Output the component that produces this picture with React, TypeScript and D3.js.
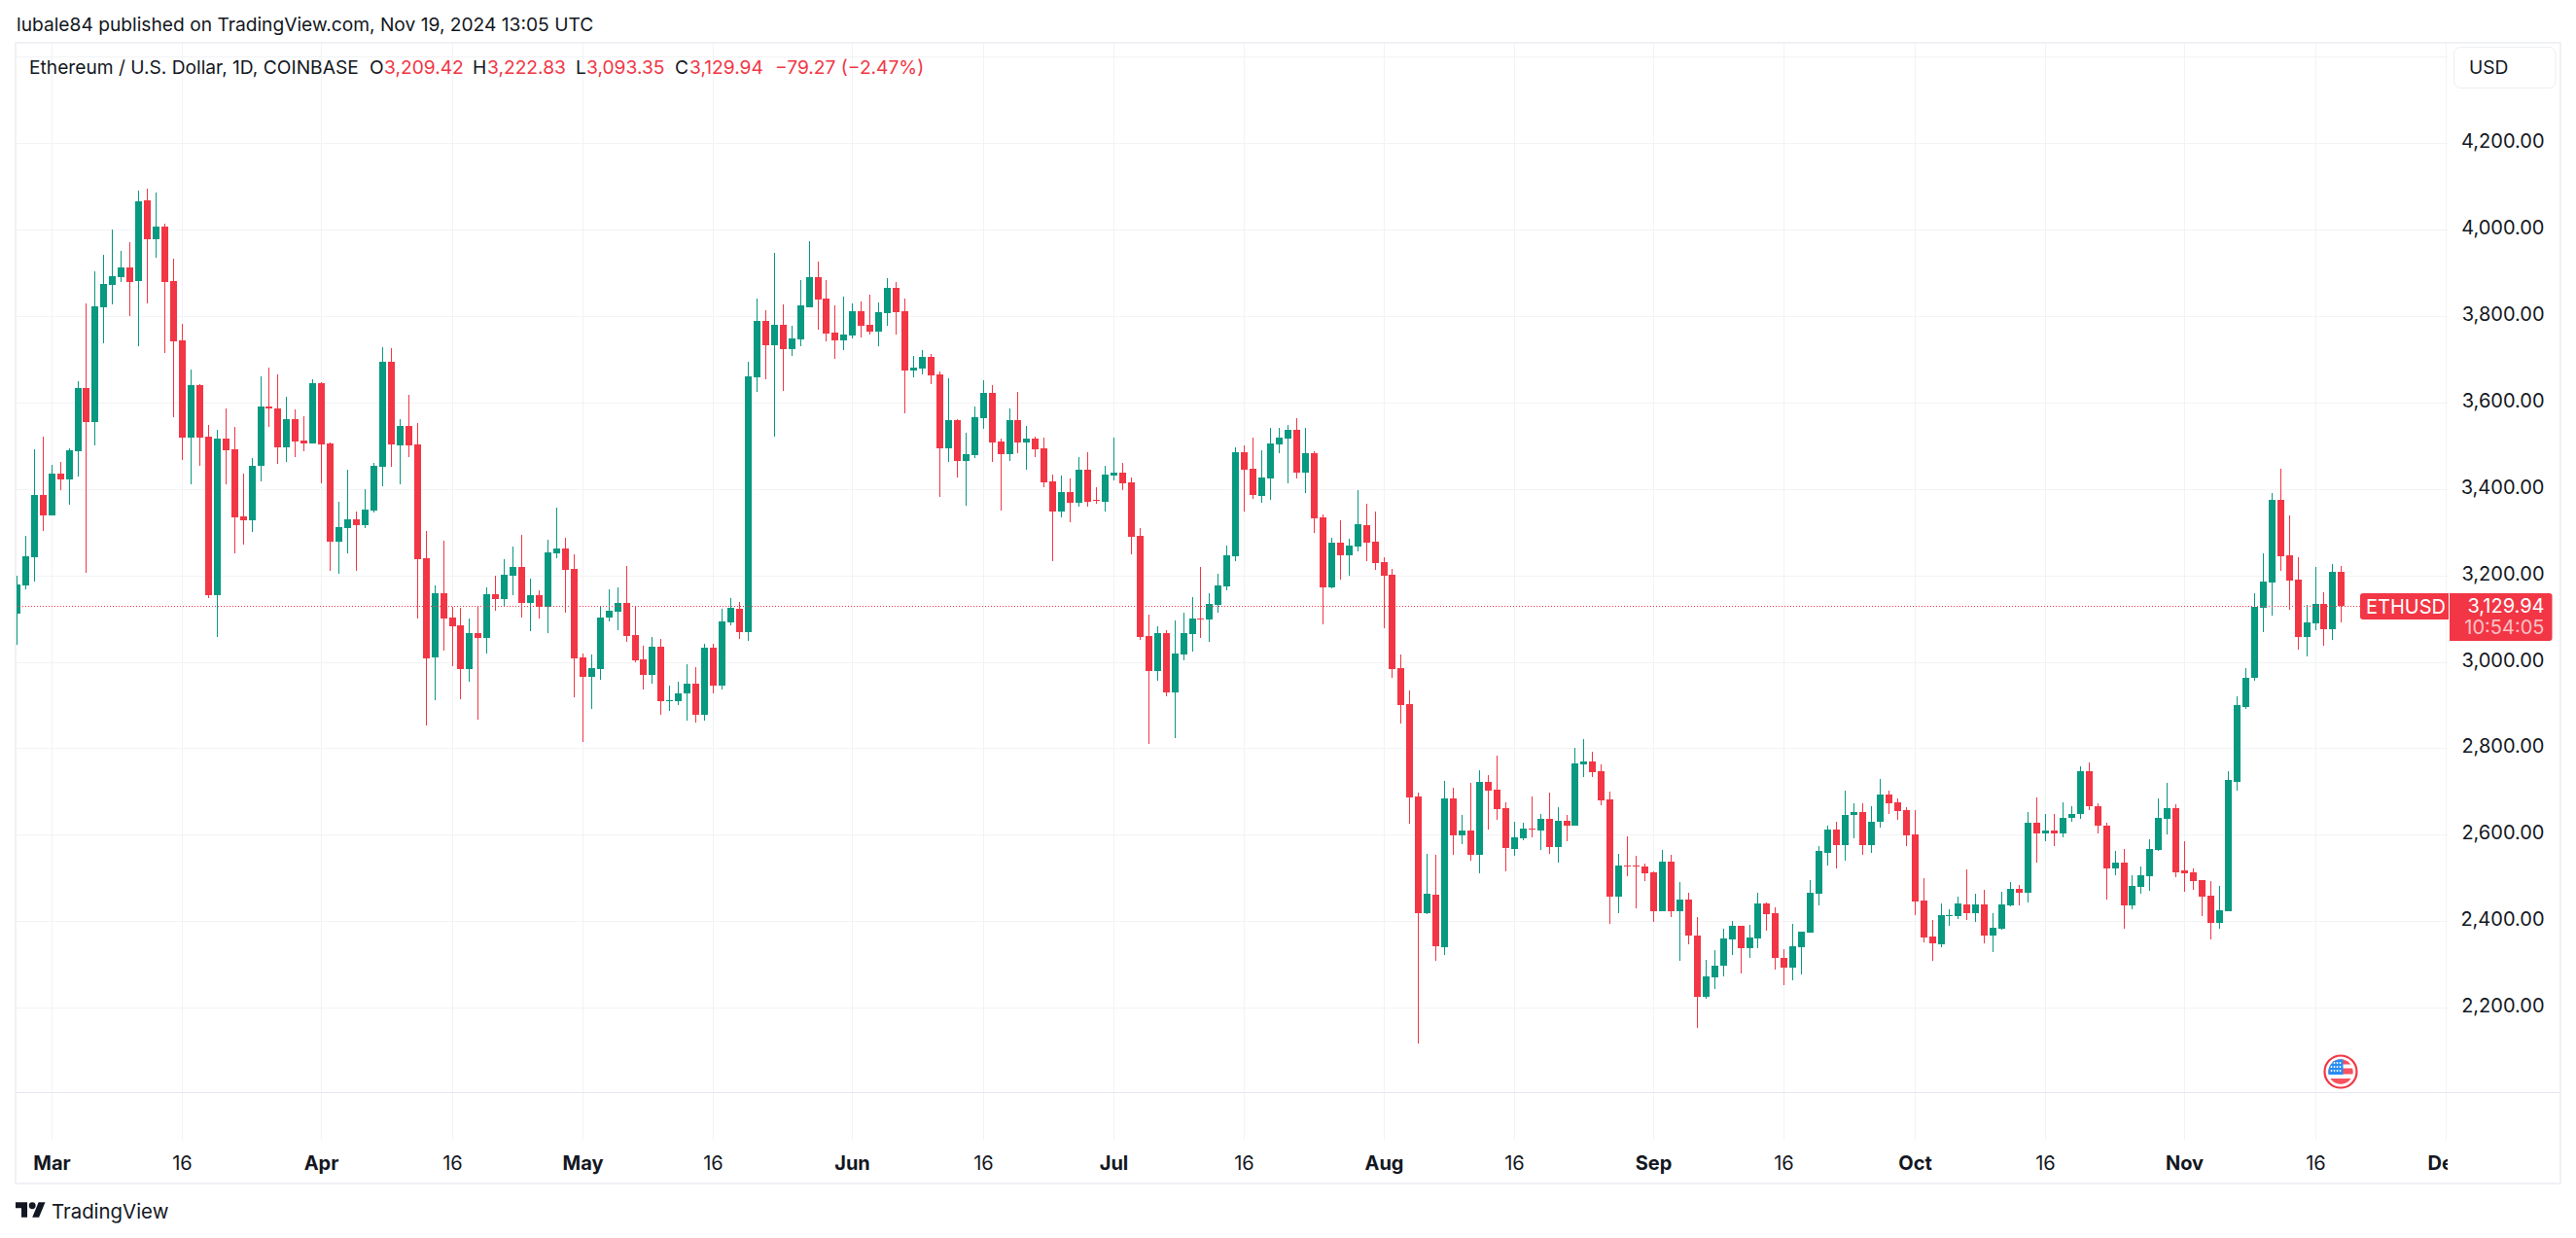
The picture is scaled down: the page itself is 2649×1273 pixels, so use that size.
import * as d3 from 'd3';

const WIDTH = 2649;
const HEIGHT = 1273;
const UP = '#089981';
const DOWN = '#f23645';
const INK = '#131722';
const GRID = '#f2f3f5';
const FRAME = '#f0f1f6';
const FONT = 'Inter, sans-serif';

// first candle is Feb 26 2024, one candle per day
const FIRST_DAY = new Date(Date.UTC(2024, 1, 26));

const opens = [
  3113, 3178, 3244, 3387, 3340, 3436, 3423, 3488, 3634, 3555,
  3821, 3873, 3890, 3913, 3881, 4068, 3978, 4008, 3881, 3744,
  3520, 3641, 3522, 3155, 3517, 3493, 3337, 3328, 3455, 3592,
  3587, 3497, 3562, 3513, 3506, 3645, 3506, 3279, 3311, 3331,
  3318, 3351, 3452, 3695, 3501, 3547, 3504, 3241, 3012, 3160,
  3104, 3086, 2985, 3068, 3057, 3158, 3147, 3201, 3221, 3138,
  3156, 3129, 3252, 3264, 3216, 3012, 2967, 2985, 3104, 3118,
  3138, 3064, 3007, 2971, 3037, 2909, 2911, 2927, 2951, 2879,
  3034, 2945, 3093, 3124, 3070, 3659, 3790, 3733, 3781, 3724,
  3747, 3821, 3891, 3841, 3762, 3745, 3756, 3812, 3781, 3765,
  3807, 3866, 3812, 3675, 3679, 3706, 3666, 3495, 3560, 3466,
  3479, 3565, 3623, 3511, 3482, 3560, 3509, 3518, 3495, 3419,
  3349, 3394, 3369, 3446, 3376, 3372, 3432, 3439, 3416, 3293,
  3061, 2980, 3068, 2931, 3019, 3066, 3102, 3100, 3133, 3176,
  3246, 3486, 3448, 3385, 3425, 3504, 3518, 3538, 3439, 3484,
  3336, 3174, 3277, 3248, 3268, 3318, 3279, 3232, 3203, 2987,
  2903, 2690, 2420, 2463, 2341, 2685, 2600, 2611, 2555, 2723,
  2705, 2663, 2568, 2593, 2616, 2611, 2638, 2573, 2634, 2622,
  2764, 2771, 2748, 2683, 2458, 2530, 2530, 2528, 2514, 2425,
  2539, 2425, 2452, 2368, 2225, 2272, 2297, 2359, 2391, 2339,
  2362, 2443, 2420, 2317, 2294, 2340, 2374, 2464, 2560, 2612,
  2578, 2646, 2653, 2578, 2630, 2695, 2675, 2657, 2601, 2448,
  2365, 2347, 2412, 2412, 2439, 2419, 2439, 2367, 2383, 2437,
  2475, 2466, 2628, 2605, 2610, 2603, 2641, 2648, 2749, 2668,
  2623, 2522, 2536, 2437, 2480, 2504, 2565, 2637, 2662, 2518,
  2513, 2495, 2459, 2396, 2423, 2724, 2897, 2963, 3127, 3185,
  3376, 3248, 3192, 3059, 3091, 3136, 3077, 3209.42,
];

const highs = [
  3200, 3293, 3493, 3522, 3456, 3463, 3495, 3650, 3830, 3904,
  3942, 4001, 3951, 3971, 4092, 4095, 4086, 4014, 3934, 3782,
  3677, 3643, 3549, 3538, 3587, 3545, 3436, 3472, 3661, 3682,
  3666, 3614, 3584, 3569, 3654, 3648, 3509, 3372, 3446, 3349,
  3401, 3461, 3728, 3727, 3562, 3618, 3554, 3304, 3178, 3282,
  3129, 3127, 3102, 3130, 3174, 3201, 3239, 3268, 3295, 3194,
  3167, 3284, 3358, 3288, 3250, 3021, 3019, 3129, 3169, 3174,
  3223, 3130, 3039, 3059, 3055, 2945, 2956, 2996, 2989, 3043,
  3043, 3124, 3149, 3140, 3695, 3841, 3814, 3947, 3828, 3778,
  3884, 3974, 3927, 3884, 3825, 3846, 3830, 3834, 3850, 3832,
  3888, 3879, 3841, 3709, 3722, 3713, 3673, 3657, 3562, 3531,
  3592, 3652, 3641, 3518, 3587, 3625, 3547, 3522, 3520, 3434,
  3432, 3425, 3475, 3486, 3405, 3455, 3520, 3461, 3428, 3311,
  3111, 3084, 3075, 3097, 3115, 3151, 3221, 3160, 3205, 3270,
  3497, 3502, 3520, 3491, 3542, 3542, 3549, 3565, 3542, 3488,
  3342, 3288, 3329, 3286, 3398, 3367, 3349, 3243, 3216, 3019,
  2935, 2699, 2557, 2555, 2726, 2710, 2647, 2721, 2750, 2739,
  2784, 2676, 2631, 2629, 2690, 2649, 2699, 2665, 2647, 2802,
  2822, 2793, 2764, 2701, 2557, 2598, 2553, 2535, 2517, 2566,
  2555, 2492, 2467, 2411, 2312, 2335, 2384, 2402, 2391, 2393,
  2467, 2445, 2434, 2337, 2395, 2376, 2495, 2574, 2623, 2632,
  2704, 2673, 2673, 2668, 2729, 2704, 2684, 2664, 2657, 2500,
  2403, 2441, 2428, 2457, 2520, 2464, 2473, 2419, 2470, 2491,
  2484, 2653, 2688, 2648, 2648, 2675, 2666, 2760, 2769, 2673,
  2628, 2563, 2567, 2507, 2527, 2590, 2684, 2722, 2671, 2587,
  2524, 2497, 2493, 2482, 2749, 2922, 2987, 3160, 3252, 3392,
  3448, 3340, 3243, 3133, 3221, 3163, 3228, 3222.83,
];

const lows = [
  3040, 3169, 3187, 3304, 3340, 3398, 3365, 3430, 3207, 3501,
  3737, 3827, 3880, 3801, 3731, 3830, 3935, 3715, 3567, 3468,
  3411, 3455, 3149, 3059, 3411, 3252, 3273, 3302, 3418, 3545,
  3459, 3463, 3475, 3488, 3506, 3414, 3212, 3205, 3252, 3212,
  3311, 3347, 3407, 3452, 3411, 3475, 3101, 2853, 2913, 3028,
  2992, 2915, 2954, 2868, 3021, 3120, 3131, 3156, 3104, 3073,
  3102, 3068, 3241, 3115, 2918, 2816, 2893, 2960, 3095, 3075,
  3048, 3001, 2938, 2951, 2879, 2888, 2902, 2866, 2861, 2864,
  2927, 2936, 3086, 3055, 3050, 3625, 3655, 3522, 3628, 3709,
  3731, 3821, 3769, 3742, 3702, 3722, 3749, 3751, 3758, 3731,
  3778, 3758, 3576, 3659, 3666, 3643, 3383, 3464, 3428, 3363,
  3473, 3540, 3464, 3351, 3466, 3484, 3446, 3475, 3405, 3234,
  3336, 3324, 3360, 3360, 3367, 3349, 3421, 3398, 3250, 3052,
  2812, 2958, 2922, 2825, 3005, 3025, 3057, 3048, 3115, 3167,
  3234, 3349, 3378, 3369, 3376, 3484, 3414, 3425, 3392, 3300,
  3088, 3172, 3192, 3201, 3257, 3234, 3214, 3079, 2965, 2859,
  2627, 2119, 2418, 2310, 2323, 2555, 2580, 2541, 2512, 2613,
  2636, 2517, 2553, 2589, 2595, 2566, 2557, 2537, 2586, 2622,
  2735, 2735, 2670, 2395, 2420, 2505, 2431, 2494, 2400, 2425,
  2411, 2310, 2348, 2153, 2222, 2243, 2274, 2323, 2279, 2317,
  2339, 2380, 2288, 2254, 2265, 2277, 2374, 2437, 2529, 2524,
  2540, 2592, 2554, 2558, 2617, 2650, 2635, 2574, 2414, 2352,
  2309, 2340, 2390, 2405, 2403, 2399, 2349, 2329, 2381, 2435,
  2437, 2444, 2536, 2587, 2574, 2594, 2632, 2637, 2657, 2605,
  2450, 2507, 2383, 2428, 2464, 2471, 2563, 2601, 2502, 2468,
  2473, 2412, 2358, 2383, 2423, 2704, 2891, 2958, 3070, 3109,
  3212, 3122, 3030, 3014, 3075, 3039, 3052, 3093.35,
];

const closes = [
  3180, 3245, 3387, 3340, 3436, 3423, 3490, 3634, 3555, 3823,
  3875, 3893, 3913, 3880, 4066, 3978, 4008, 3880, 3742, 3520,
  3641, 3520, 3155, 3517, 3490, 3335, 3328, 3455, 3592, 3587,
  3497, 3562, 3510, 3506, 3645, 3504, 3279, 3313, 3331, 3318,
  3353, 3455, 3695, 3504, 3547, 3501, 3239, 3009, 3160, 3102,
  3084, 2985, 3068, 3057, 3158, 3147, 3203, 3221, 3138, 3156,
  3129, 3255, 3264, 3214, 3010, 2967, 2987, 3104, 3120, 3138,
  3061, 3005, 2971, 3037, 2909, 2913, 2929, 2951, 2879, 3034,
  2945, 3095, 3127, 3070, 3661, 3790, 3733, 3781, 3724, 3749,
  3825, 3891, 3839, 3760, 3745, 3758, 3812, 3778, 3765, 3810,
  3866, 3810, 3675, 3682, 3706, 3664, 3495, 3560, 3466, 3482,
  3567, 3623, 3509, 3482, 3560, 3509, 3518, 3493, 3416, 3349,
  3394, 3369, 3446, 3372, 3373, 3434, 3439, 3414, 3291, 3059,
  2980, 3068, 2931, 3021, 3068, 3102, 3100, 3136, 3178, 3248,
  3486, 3446, 3387, 3428, 3506, 3520, 3538, 3439, 3484, 3333,
  3174, 3277, 3248, 3270, 3320, 3277, 3230, 3201, 2985, 2902,
  2688, 2420, 2465, 2344, 2685, 2600, 2611, 2555, 2723, 2703,
  2661, 2571, 2595, 2616, 2613, 2638, 2573, 2634, 2622, 2766,
  2771, 2746, 2681, 2458, 2530, 2528, 2528, 2512, 2425, 2539,
  2425, 2452, 2368, 2225, 2274, 2299, 2362, 2391, 2339, 2364,
  2443, 2418, 2317, 2294, 2344, 2376, 2466, 2563, 2614, 2578,
  2646, 2653, 2576, 2632, 2695, 2673, 2655, 2599, 2446, 2363,
  2349, 2414, 2414, 2441, 2419, 2439, 2367, 2385, 2439, 2475,
  2466, 2628, 2605, 2610, 2603, 2641, 2650, 2749, 2666, 2621,
  2522, 2536, 2437, 2482, 2507, 2567, 2639, 2662, 2515, 2511,
  2493, 2457, 2396, 2426, 2727, 2900, 2965, 3129, 3187, 3376,
  3246, 3190, 3059, 3093, 3136, 3077, 3210, 3129.94,
];

const priceGrid = [4400, 4200, 4000, 3800, 3600, 3400, 3200, 3000, 2800, 2600, 2400, 2200];
const priceLabels = [4200, 4000, 3800, 3600, 3400, 3200, 3000, 2800, 2600, 2400, 2200];

const timeTicks: [string, string, boolean][] = [
  ['2024-03-01', 'Mar', true], ['2024-03-16', '16', false],
  ['2024-04-01', 'Apr', true], ['2024-04-16', '16', false],
  ['2024-05-01', 'May', true], ['2024-05-16', '16', false],
  ['2024-06-01', 'Jun', true], ['2024-06-16', '16', false],
  ['2024-07-01', 'Jul', true], ['2024-07-16', '16', false],
  ['2024-08-01', 'Aug', true], ['2024-08-16', '16', false],
  ['2024-09-01', 'Sep', true], ['2024-09-16', '16', false],
  ['2024-10-01', 'Oct', true], ['2024-10-16', '16', false],
  ['2024-11-01', 'Nov', true], ['2024-11-16', '16', false],
  ['2024-12-01', 'Dec', true],
];

const legendValues: [string, string, number, number][] = [
  ['O', '3,209.42', 380, 395],
  ['H', '3,222.83', 486, 501],
  ['L', '3,093.35', 592, 603],
  ['C', '3,129.94', 694, 709],
];

const lastClose = closes[closes.length - 1];

const PANE = { left: 17, right: 2517, top: 45, bottom: 1123, gridEnd: 1172 };

const x = d3
  .scaleUtc()
  .domain([new Date(Date.UTC(2024, 2, 1)), new Date(Date.UTC(2024, 11, 1))])
  .range([53.16, 2515.3]);
const y = d3.scaleLinear().domain([4000, 2200]).range([236.6, 1036.6]);
const priceFormat = d3.format(',.2f');

const starDots = d3.cross([-9.5, -6.5, -3.5, -0.5], [-9, -5, -1]);

function Flag({ cx, cy }: { cx: number; cy: number }) {
  return (
    <g transform={`translate(${cx},${cy})`}>
      <circle r={16.5} fill="#fff" stroke={DOWN} strokeWidth={2.2} />
      <clipPath id="flag-clip">
        <circle r={12.7} />
      </clipPath>
      <g clipPath="url(#flag-clip)">
        <rect x={-13} y={-13} width={26} height={5.5} fill="#f7525f" />
        <rect x={-13} y={-3.5} width={26} height={6} fill="#f7525f" />
        <rect x={-13} y={7} width={26} height={7} fill="#f7525f" />
        <rect x={-13} y={-13} width={15.5} height={16} fill="#2a8df2" />
        {starDots.map(([dx, dy]) => (
          <circle key={`${dx},${dy}`} cx={dx} cy={dy} r={0.9} fill="#fff" />
        ))}
      </g>
    </g>
  );
}

export default function App() {
  const candles = d3.range(opens.length).map((i) => ({
    date: d3.utcDay.offset(FIRST_DAY, i),
    open: opens[i],
    high: highs[i],
    low: lows[i],
    close: closes[i],
  }));

  const lastY = Math.floor(y(lastClose)) + 0.5;

  return (
    <svg
      width={WIDTH}
      height={HEIGHT}
      viewBox={`0 0 ${WIDTH} ${HEIGHT}`}
      style={{ position: 'absolute', left: 0, top: 0, background: '#fff', fontFamily: FONT }}
    >
      <defs>
        <clipPath id="pane-clip">
          <rect x={PANE.left} y={PANE.top} width={PANE.right - PANE.left} height={PANE.bottom - PANE.top} />
        </clipPath>
        <clipPath id="time-clip">
          <rect x={PANE.left} y={1175} width={PANE.right - PANE.left} height={40} />
        </clipPath>
      </defs>

      <text x={17} y={32} fontSize={19.2} fill={INK}>
        lubale84 published on TradingView.com, Nov 19, 2024 13:05 UTC
      </text>

      {/* grid */}
      <g stroke={GRID} strokeWidth={1}>
        {priceGrid.map((p) => {
          const gy = Math.floor(y(p)) + 0.5;
          return <line key={p} x1={PANE.left} x2={PANE.right} y1={gy} y2={gy} />;
        })}
        {timeTicks.map(([d]) => {
          const gx = Math.floor(x(new Date(d))) + 0.5;
          return <line key={d} x1={gx} x2={gx} y1={PANE.top} y2={PANE.gridEnd} />;
        })}
      </g>
      <line x1={PANE.left} x2={2633} y1={1123.5} y2={1123.5} stroke="#e6e7ef" />

      {/* frame */}
      <rect x={16} y={44} width={2617} height={1173} fill="none" stroke={FRAME} strokeWidth={2} />

      {/* candles */}
      <g clipPath="url(#pane-clip)">
        {candles.map((c) => {
          const cx = Math.floor(x(c.date));
          const top = Math.round(y(Math.max(c.open, c.close)));
          const bottom = Math.round(y(Math.min(c.open, c.close)));
          const color = c.close >= c.open ? UP : DOWN;
          return (
            <g key={+c.date} fill={color}>
              <rect
                x={cx}
                y={Math.round(y(c.high))}
                width={1}
                height={Math.max(1, Math.round(y(c.low)) - Math.round(y(c.high)))}
              />
              <rect x={cx - 3} y={top} width={7} height={Math.max(1, bottom - top)} />
            </g>
          );
        })}
      </g>

      {/* last price line */}
      <line
        x1={PANE.left}
        x2={2428}
        y1={lastY}
        y2={lastY}
        stroke={DOWN}
        strokeWidth={1}
        strokeDasharray="1 2"
      />

      {/* legend */}
      <g fontSize={19.2} dominantBaseline="central">
        <text x={30} y={69} fill={INK}>
          Ethereum / U.S. Dollar, 1D, COINBASE
        </text>
        {legendValues.map(([k, v, kx, vx]) => (
          <g key={k}>
            <text x={kx} y={69} fill={INK}>{k}</text>
            <text x={vx} y={69} fill={DOWN}>{v}</text>
          </g>
        ))}
        <text x={797} y={69} fill={DOWN}>−79.27 (−2.47%)</text>
      </g>

      {/* price axis */}
      <rect x={2523.5} y={48.5} width={104.5} height={42} rx={7} fill="#fff" stroke="#eceef3" />
      <text x={2539} y={69} fontSize={19.2} fill={INK} dominantBaseline="central">USD</text>
      <g fontSize={20} fill={INK} textAnchor="end" dominantBaseline="central">
        {priceLabels.map((p) => (
          <text key={p} x={2616.5} y={Math.floor(y(p)) - 2}>
            {priceFormat(p)}
          </text>
        ))}
      </g>

      {/* time axis */}
      <g fontSize={20} fill={INK} textAnchor="middle" dominantBaseline="central" clipPath="url(#time-clip)">
        {timeTicks.map(([d, label, major]) => (
          <text key={d} x={Math.floor(x(new Date(d))) + 0.5} y={1196} fontWeight={major ? 700 : 400}>
            {label}
          </text>
        ))}
      </g>

      {/* last price badges */}
      <rect x={2427} y={610} width={91} height={27} rx={3} fill={DOWN} />
      <rect x={2512} y={610} width={6} height={27} fill={DOWN} />
      <text x={2433} y={623.5} fontSize={20} fill="#fff" dominantBaseline="central">ETHUSD</text>
      <rect x={2519} y={610} width={105.5} height={49} rx={3} fill={DOWN} />
      <rect x={2519} y={610} width={6} height={49} fill={DOWN} />
      <text x={2616.5} y={622.5} fontSize={20} fill="#fff" textAnchor="end" dominantBaseline="central">
        {priceFormat(lastClose)}
      </text>
      <text x={2616.5} y={644.5} fontSize={20} fill="#fff" fillOpacity={0.7} textAnchor="end" dominantBaseline="central">
        10:54:05
      </text>

      <Flag cx={2407} cy={1102} />

      {/* logo */}
      <g transform="translate(16,1232.9) scale(0.86)" fill={INK}>
        <path d="M14 22H7V11H0V4h14v18zM28 22h-8l7.5-18h8L28 22z" />
        <circle cx={20} cy={8} r={4} />
      </g>
      <text x={53} y={1253} fontSize={20.4} fill={INK}>TradingView</text>
    </svg>
  );
}
